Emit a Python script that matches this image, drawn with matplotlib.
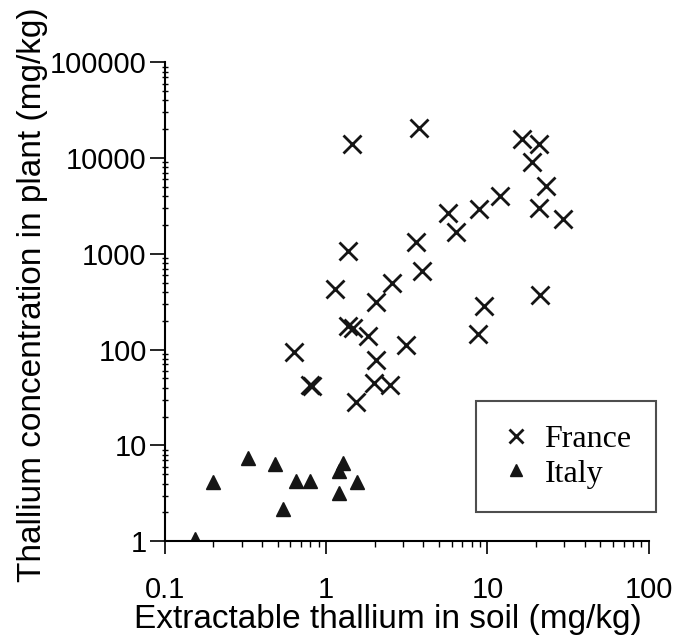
import matplotlib
matplotlib.use("Agg")
import matplotlib.pyplot as plt
from matplotlib.ticker import LogLocator, FixedLocator, FixedFormatter, NullFormatter

# France: extractable Tl in soil vs Tl in plant (mg/kg)
france_soil = [1.45, 3.77, 16.3, 21.0, 18.8, 23.0, 12.0, 5.69, 8.9, 20.8, 29.4,
               6.4, 3.61, 3.92, 1.36, 1.13, 2.57, 2.03, 9.5, 21.2, 1.36, 1.47,
               1.83, 3.13, 8.7, 0.636, 2.04, 0.80, 0.82, 1.97, 2.49, 1.54]
france_plant = [14000, 20600, 16000, 14000, 9150, 5150, 4030, 2660, 2940, 2990, 2290,
                1705, 1332, 667, 1060, 427, 496, 318, 288, 369, 176, 167,
                140, 113, 147, 94, 78, 43, 42, 45, 42.8, 28.2]

# Italy
italy_soil = [0.155, 0.20, 0.328, 0.484, 0.54, 0.653, 0.80, 1.28, 1.20, 1.20, 1.56]
italy_plant = [1.05, 4.2, 7.4, 6.4, 2.16, 4.3, 4.3, 6.5, 5.4, 3.2, 4.2]

x_ticks = [0.1, 1, 10, 100]
x_ticklabels = ["0.1", "1", "10", "100"]
y_ticks = [1, 10, 100, 1000, 10000, 100000]
y_ticklabels = ["1", "10", "100", "1000", "10000", "100000"]

sans = ["Liberation Sans", "DejaVu Sans"]
serif = ["Liberation Serif", "DejaVu Serif"]

fig = plt.figure(figsize=(6.78, 6.42), dpi=100)
ax = fig.add_axes([0.243, 0.157, 0.714, 0.746])

ax.plot(france_soil, france_plant, linestyle="none", marker="x", color="#151515",
        markersize=13, markeredgewidth=2.0, label="France")
ax.plot(italy_soil, italy_plant, linestyle="none", marker="^", color="#151515",
        markersize=10.5, label="Italy")

ax.set_xscale("log")
ax.set_yscale("log")
ax.set_xlim(0.1, 100)
ax.set_ylim(1, 100000)

for s in ["top", "right"]:
    ax.spines[s].set_visible(False)
for s in ["left", "bottom"]:
    ax.spines[s].set_linewidth(1.5)

ax.xaxis.set_major_locator(FixedLocator(x_ticks))
ax.xaxis.set_major_formatter(FixedFormatter(x_ticklabels))
ax.yaxis.set_major_locator(FixedLocator(y_ticks))
ax.yaxis.set_major_formatter(FixedFormatter(y_ticklabels))
ax.xaxis.set_minor_locator(LogLocator(base=10, subs=range(2, 10), numticks=20))
ax.yaxis.set_minor_locator(LogLocator(base=10, subs=range(2, 10), numticks=20))
ax.xaxis.set_minor_formatter(NullFormatter())
ax.yaxis.set_minor_formatter(NullFormatter())

ax.tick_params(axis="x", which="major", direction="out", length=9, width=1.2, pad=16)
ax.tick_params(axis="x", which="minor", direction="out", length=4, width=1.0)
ax.tick_params(axis="y", which="major", direction="out", length=11, width=1.2, pad=2)
ax.tick_params(axis="y", which="minor", direction="inout", length=5, width=1.0)

for lab in ax.get_xticklabels() + ax.get_yticklabels():
    lab.set_family(sans)
    lab.set_fontsize(21)

ax.set_xlabel("Extractable thallium in soil (mg/kg)", family=sans, fontsize=24, va="center")
ax.xaxis.set_label_coords(0.461, -0.163)
ax.set_ylabel("Thallium concentration in plant (mg/kg)", family=sans, fontsize=24, va="center")
ax.yaxis.set_label_coords(-0.273, 0.515)

leg = ax.legend(loc="lower right", bbox_to_anchor=(1.014, 0.06), frameon=True, fancybox=False,
                prop={"family": serif, "size": 23}, handletextpad=0.4,
                borderpad=0.75, labelspacing=0.15, handlelength=1.0,
                borderaxespad=0, markerscale=0.8)
leg.get_frame().set_edgecolor("#222222")
leg.get_frame().set_linewidth(1.5)

fig.savefig("out.png", dpi=100)
